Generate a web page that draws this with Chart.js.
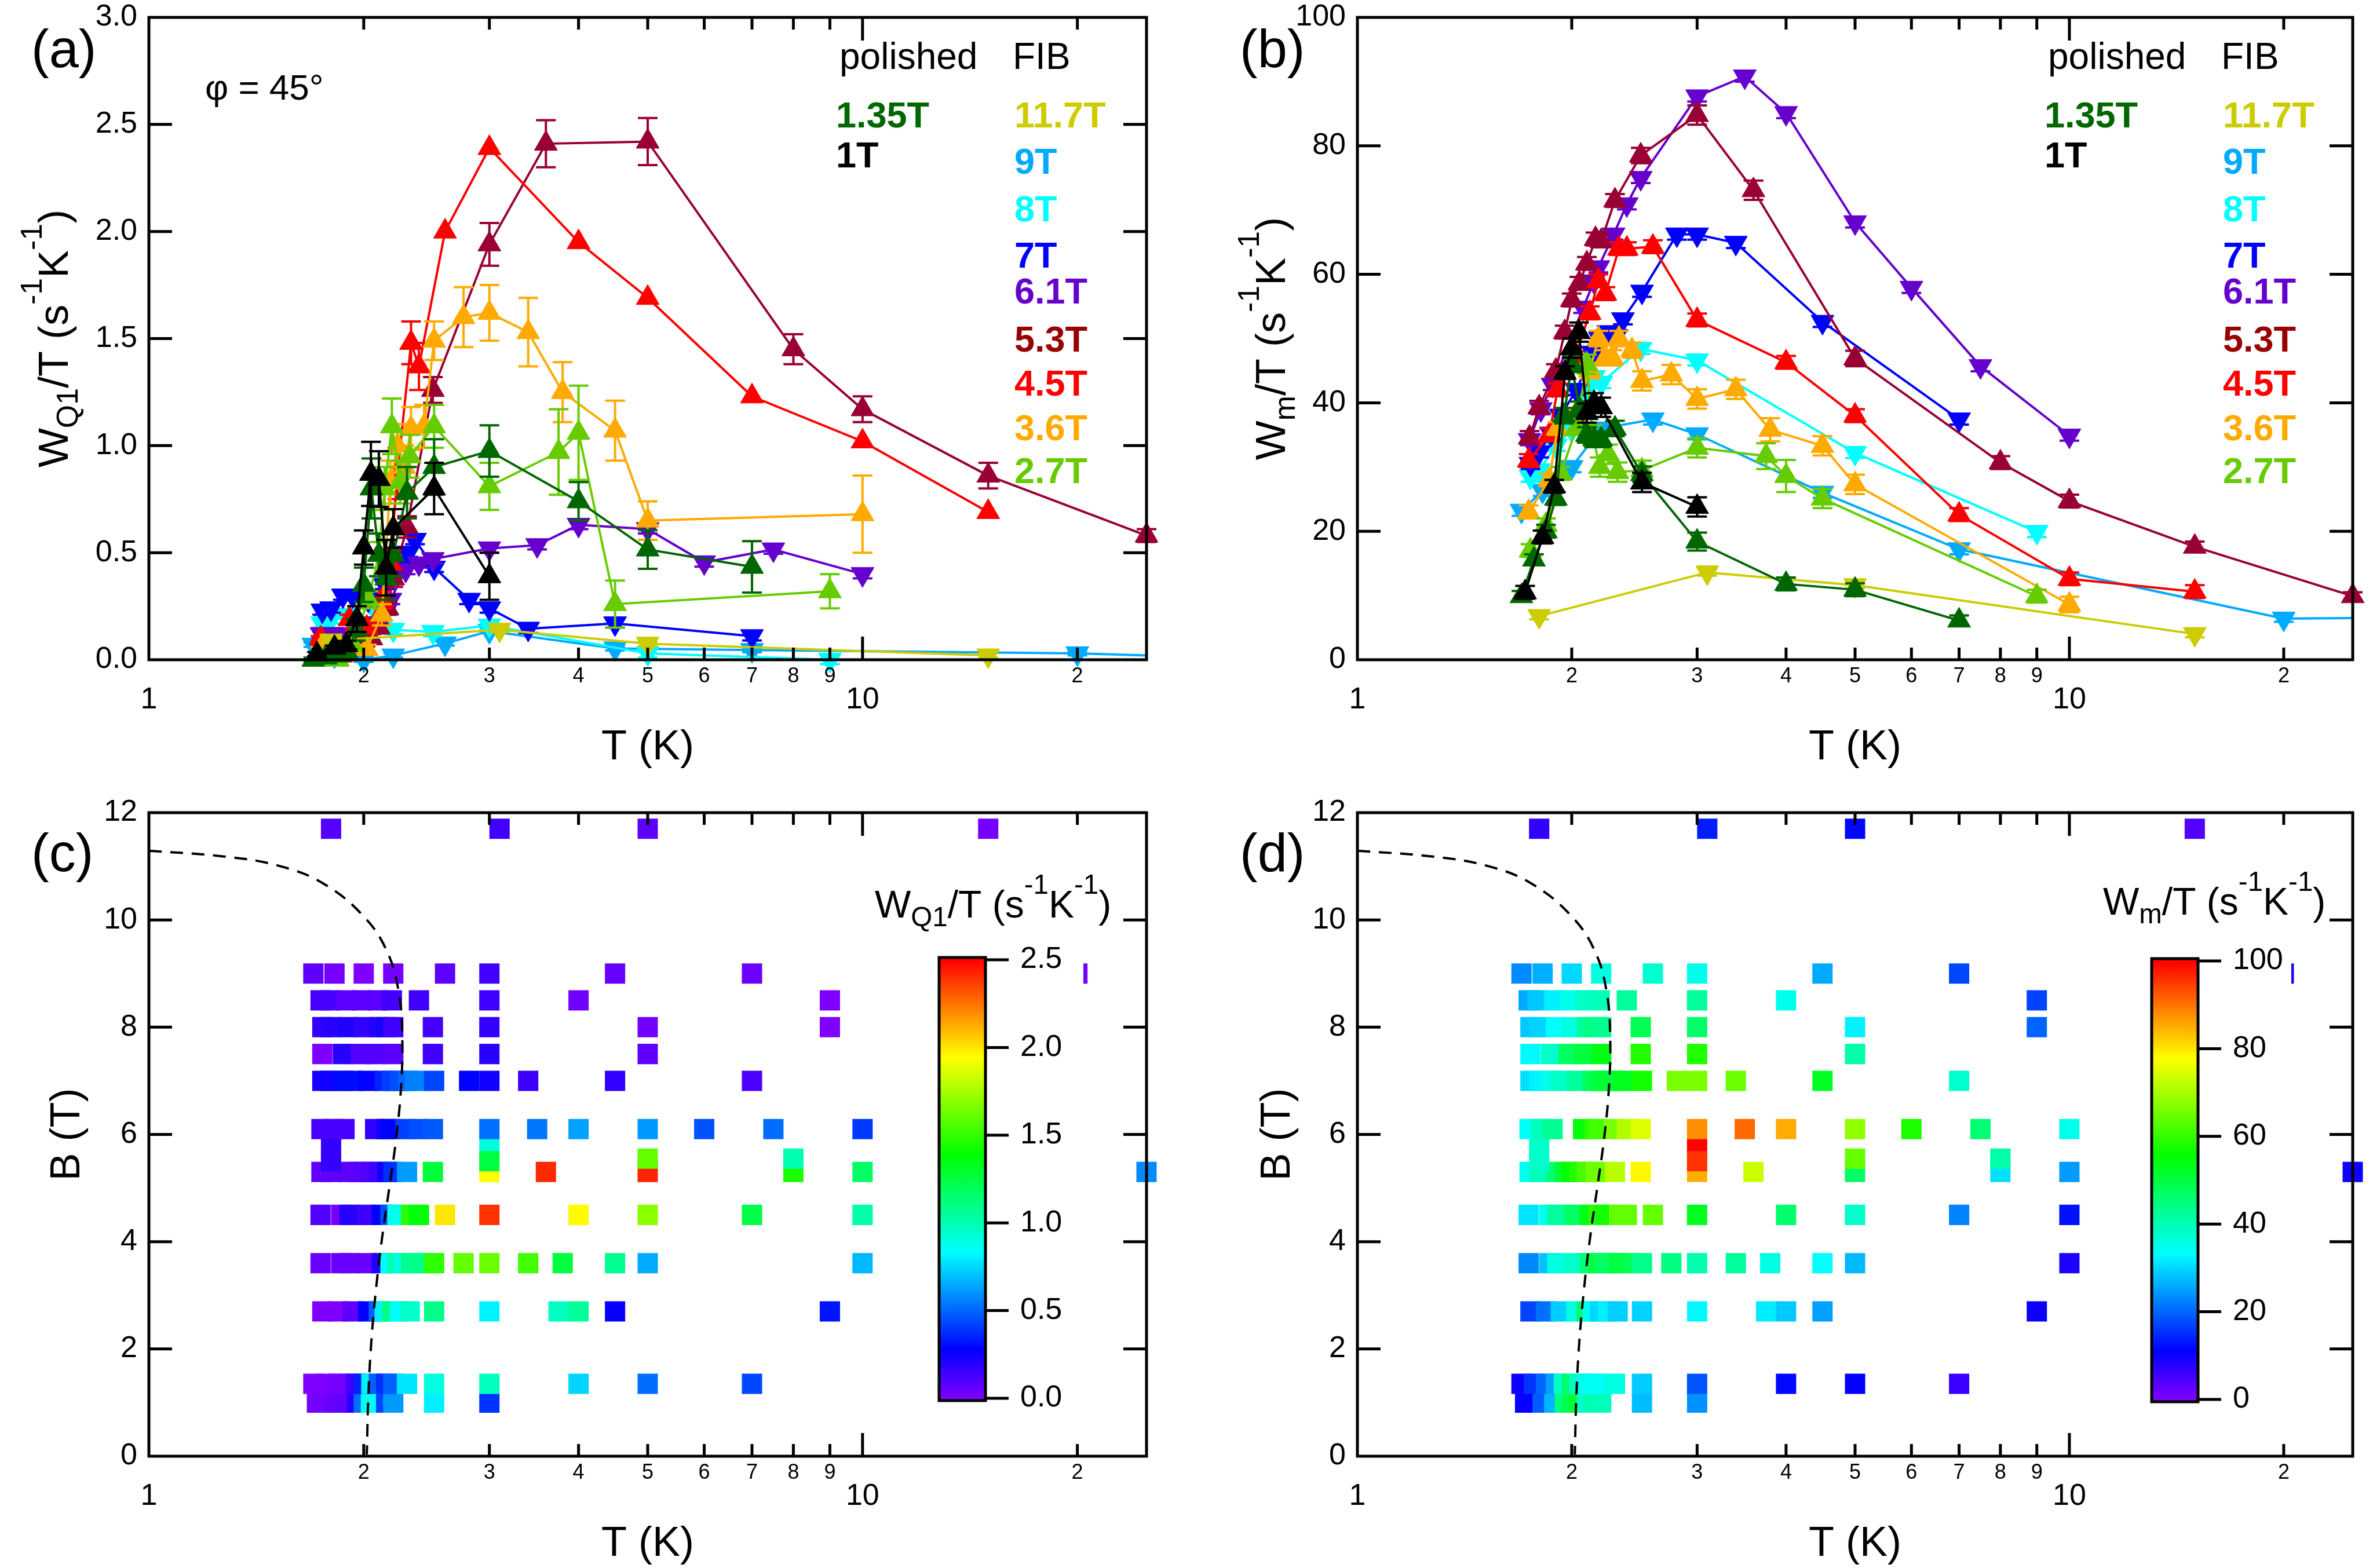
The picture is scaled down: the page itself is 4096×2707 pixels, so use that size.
<!DOCTYPE html>
<html><head><meta charset="utf-8">
<script src="https://cdn.jsdelivr.net/npm/chart.js@4.4.0/dist/chart.umd.min.js"></script>
<style>
html,body{margin:0;padding:0;background:#fff;}
#wrap{position:relative;width:4096px;height:2707px;background:#fff;overflow:hidden;}
canvas{position:absolute;}
</style></head>
<body><div id="wrap">
<canvas id="ca" width="2048" height="1353" style="left:0;top:0"></canvas>
<canvas id="cb" width="2048" height="1353" style="left:2048px;top:0"></canvas>
<canvas id="cc" width="2048" height="1354" style="left:0;top:1353px"></canvas>
<canvas id="cd" width="2048" height="1354" style="left:2048px;top:1353px"></canvas>
</div>
<script>
// ---------------- data (T in K, Q = W_Q1/T, M = Wm/T) ----------------
const T_1   = [1.72, 1.82, 1.89, 1.957, 2.0, 2.047, 2.10, 2.15, 2.20, 2.51, 3.0];
const Q_1   = [0.026, 0.056, 0.068, 0.19, 0.524, 0.868, 0.844, 0.43, 0.613, 0.80, 0.39];
const EQ_1  = [0.01, 0.01, 0.02, 0.06, 0.08, 0.15, 0.13, 0.13, 0.09, 0.12, 0.11];
const M_1   = [10.5, 19.1, 27, 44.7, 48.5, 51.0, 38.4, 40, 39.3, 27.6, 23.8];
const EM_1  = [1, 1, 1, 1, 1.5, 1.5, 1.5, 1.5, 1.5, 1.5, 1.5];

const T_135  = [1.70, 1.77, 1.84, 1.90, 1.95, 2.0, 2.05, 2.10, 2.15, 2.20, 2.30, 2.51, 3.0, 4.0, 5.0, 7.0];
const Q_135  = [0.0, 0.01, 0.02, 0.03, 0.14, 0.35, 0.8, 0.49, 0.38, 0.49, 0.78, 0.90, 0.975, 0.74, 0.515, 0.434];
const EQ_135 = [0.01, 0.01, 0.01, 0.02, 0.05, 0.08, 0.14, 0.1, 0.1, 0.1, 0.12, 0.13, 0.12, 0.09, 0.09, 0.12];
const M_135  = [9.9, 15.6, 20, 25.1, 38, 46, 39, 35, 34.3, 34.3, 36, 28.9, 18.4, 11.8, 10.9, 6.1];
const EM_135 = [0.8, 0.8, 1, 1, 1.2, 1.2, 1.2, 1.2, 1.2, 1.2, 1.2, 1.2, 1.4, 1, 1, 0.8];

const T_117  = [1.8, 3.1, 5.0, 15];
const Q_117  = [0.09, 0.14, 0.075, 0.02];
const EQ_117 = [0.01, 0.01, 0.01, 0.01];
const M_117  = [6.8, 13.6, 11.6, 4.0];
const EM_117 = [0.5, 0.5, 0.5, 0.5];

const T_27  = [1.75, 1.84, 1.93, 2.03, 2.10, 2.14, 2.19, 2.25, 2.32, 2.51, 3.0, 3.75, 4.0, 4.5, 9.0];
const Q_27  = [0.0, 0.0, 0.07, 0.28, 0.49, 0.8, 1.09, 0.83, 0.95, 1.09, 0.81, 0.97, 1.06, 0.26, 0.32];
const EQ_27 = [0.01, 0.01, 0.02, 0.04, 0.06, 0.1, 0.13, 0.1, 0.1, 0.1, 0.11, 0.2, 0.22, 0.11, 0.08];
const M_27  = [17, 21, 29, 36, 46, 35, 30, 32, 29.2, 29.5, 33, 31.7, 28.6, 25.1, 9.9];
const EM_27 = [1, 1, 1, 1, 1.5, 1.5, 1.5, 1.5, 1.5, 1.5, 1.5, 2, 2.5, 1.5, 1];

const T_36  = [1.74, 1.86, 1.91, 2.02, 2.12, 2.18, 2.23, 2.28, 2.33, 2.43, 2.51, 2.76, 3.0, 3.4, 3.8, 4.5, 5.0, 10];
const Q_36  = [0.05, 0.05, 0.05, 0.05, 0.21, 0.83, 1.0, 0.9, 1.08, 1.09, 1.49, 1.60, 1.62, 1.53, 1.25, 1.07, 0.65, 0.68];
const EQ_36 = [0.01, 0.01, 0.01, 0.02, 0.05, 0.1, 0.1, 0.1, 0.1, 0.1, 0.09, 0.14, 0.13, 0.16, 0.14, 0.14, 0.09, 0.18];
const M_36  = [23, 28, 36, 38, 45, 50, 47, 47, 50, 48.2, 43.4, 44.4, 40.6, 42.1, 35.8, 33.3, 27.3, 8.6];
const EM_36 = [1, 1, 1, 1, 1.2, 1.2, 1.2, 1.2, 1.2, 1.2, 1.5, 1.5, 1.5, 1.5, 1.8, 1.5, 1.5, 1.2];

const T_45  = [1.74, 1.86, 1.91, 2.02, 2.12, 2.18, 2.23, 2.33, 2.39, 2.6, 3.0, 4.0, 5.0, 7.0, 10, 15];
const Q_45  = [0.10, 0.02, 0.19, 0.15, 0.28, 0.45, 0.87, 1.48, 1.37, 2.0, 2.39, 1.95, 1.69, 1.23, 1.02, 0.69];
const EQ_45 = [0.01, 0.01, 0.02, 0.02, 0.04, 0.06, 0.12, 0.1, 0.11, 0, 0, 0, 0, 0, 0, 0];
const M_45  = [31, 35, 42, 47, 54, 59, 57, 64, 64, 64.3, 52.9, 46.3, 38.0, 22.6, 12.6, 10.6];
const EM_45 = [1, 1, 1, 1, 1, 1, 1, 1, 1, 1, 1, 1, 1, 1, 1, 1];

const T_53  = [1.745, 1.8, 1.9, 1.955, 2.0, 2.05, 2.1, 2.16, 2.2, 2.3, 2.5, 3.0, 3.6, 5.0, 8.0, 10, 15, 25];
const Q_53  = [0.06, 0.07, 0.08, 0.08, 0.09, 0.1, 0.15, 0.24, 0.38, 0.62, 1.26, 1.94, 2.41, 2.42, 1.45, 1.17, 0.86, 0.58];
const EQ_53 = [0.01, 0.01, 0.01, 0.01, 0.01, 0.02, 0.02, 0.03, 0.04, 0.05, 0.06, 0.1, 0.11, 0.11, 0.07, 0.06, 0.06, 0.03];
const M_53  = [34.6, 39.3, 45, 51, 56, 58.6, 61.7, 65.5, 65.2, 71.5, 78.5, 84.8, 73.1, 46.9, 30.7, 24.7, 17.6, 9.9];
const EM_53 = [1, 1, 1, 1, 1, 1, 1, 1, 1, 1, 1.2, 1.5, 1.5, 1.2, 1, 1, 0.8, 0.6];

const T_61  = [1.745, 1.81, 1.88, 2.075, 2.15, 2.18, 2.29, 2.39, 2.5, 3.0, 3.5, 4.0, 5.0, 6.0, 7.5, 10];
const Q_61  = [0.12, 0.12, 0.12, 0.17, 0.23, 0.28, 0.42, 0.45, 0.47, 0.52, 0.535, 0.63, 0.61, 0.455, 0.515, 0.40];
const EQ_61 = [0.02, 0.02, 0.02, 0.02, 0.02, 0.02, 0.02, 0.02, 0.02, 0.02, 0.02, 0.02, 0.02, 0.02, 0.02, 0.02];
const M_61  = [34.2, 39.0, 42.8, 54.8, 58.9, 61.1, 66.2, 70.9, 75.0, 87.7, 90.8, 85.1, 68.1, 57.9, 45.7, 34.9];
const EM_61 = [0.8, 0.8, 0.8, 0.8, 0.8, 0.8, 0.8, 0.8, 0.8, 0.8, 0.8, 0.8, 0.8, 0.8, 0.8, 0.8];

const T_7   = [1.75, 1.80, 1.87, 1.93, 2.03, 2.14, 2.19, 2.25, 2.31, 2.36, 2.51, 2.81, 3.0, 3.4, 4.5, 7.0];
const Q_7   = [0.23, 0.24, 0.30, 0.30, 0.28, 0.35, 0.41, 0.45, 0.50, 0.56, 0.43, 0.28, 0.24, 0.145, 0.17, 0.11];
const EQ_7  = [0.02, 0.02, 0.02, 0.02, 0.02, 0.02, 0.02, 0.02, 0.02, 0.02, 0.02, 0.02, 0.02, 0.02, 0.02, 0.02];
const M_7   = [30.5, 32.3, 35.2, 38, 42, 47.8, 50, 51, 50.4, 53, 57.3, 66.2, 66.2, 64.9, 52.6, 37.4];
const EM_7  = [0.8, 0.8, 0.8, 0.8, 0.8, 0.8, 0.8, 0.8, 0.8, 0.8, 0.8, 0.8, 0.8, 0.8, 0.8, 0.8];

const T_8   = [1.75, 1.80, 1.90, 2.0, 2.1, 2.15, 2.2, 2.5, 3.0, 5.0, 9.0];
const Q_8   = [0.17, 0.19, 0.21, 0.17, 0.20, 0.23, 0.14, 0.13, 0.16, 0.03, 0.0];
const EQ_8  = [0.02, 0.02, 0.02, 0.02, 0.02, 0.02, 0.02, 0.02, 0.02, 0.02, 0.02];
const M_8   = [28.5, 29.5, 33.3, 35.8, 42, 44, 43.1, 48.4, 46.6, 32.2, 19.9];
const EM_8  = [0.8, 0.8, 0.8, 0.8, 0.8, 0.8, 0.8, 0.8, 0.8, 0.8, 0.8];

const T_9   = [1.70, 1.82, 2.0, 2.2, 2.6, 3.0, 4.5, 7.0, 20, 30];
const Q_9   = [0.07, 0.02, 0.0, 0.02, 0.076, 0.134, 0.053, 0.045, 0.03, 0.012];
const EQ_9  = [0.01, 0.01, 0.01, 0.01, 0.01, 0.01, 0.01, 0.01, 0.01, 0];
const M_9   = [23.2, 26.3, 30, 36, 37.4, 35.1, 26.0, 17.2, 6.4, 6.55];
const EM_9  = [0.8, 0.8, 0.8, 0.8, 0.8, 0.8, 0.8, 0.8, 0.5, 0];

// heat-map only rows / cells
const ROW75_T = [1.75, 1.87, 1.98, 2.08, 2.2, 2.5, 3.0, 5.0];
const ROW75_Q = [0.0, 0.19, 0.10, 0.10, 0.08, 0.14, 0.19, 0.07];
const ROW75_M = [33, 38, 47, 50, 54, 58.5, 58.5, 41];
const ROW85_T = [1.74, 1.79, 1.89, 1.99, 2.09, 2.19, 2.39, 3.0, 4.0, 9.0];
const ROW85_Q = [0.12, 0.12, 0.08, 0.08, 0.08, 0.13, 0.14, 0.14, 0.03, 0.0];
const ROW85_M = [26, 28.5, 32, 35, 38, 39.5, 42, 42, 35, 17];
const XTRA_T = [1.8, 3.0, 1.8, 3.0, 5.0, 8.0];
const XTRA_B = [5.75, 5.75, 5.5, 5.5, 5.55, 5.55];
const XTRA_Q = [0.17, 0.91, 0.16, 1.25, 1.6, 1.0];
const XTRA_M = [38, 100, 38, 95.5, 64.4, 41];
const FAR_T = [15, 25, 20];
const FAR_B = [11.7, 5.3, 9.0];
const FAR_Q = [0.02, 0.58, 0.03];
const FAR_M = [4.0, 9.9, 9.0];
const HM_MAX_T = 10.5;

// phase boundary (dashed)
const PHASE_T = [1.0, 1.28, 1.52, 1.755, 2.005, 2.16, 2.24, 2.265, 2.255, 2.22, 2.17, 2.12, 2.08, 2.05, 2.03, 2.02];
const PHASE_B = [11.29, 11.18, 11.01, 10.68, 10.05, 9.39, 8.64, 7.79, 6.85, 5.91, 4.97, 4.03, 3.09, 2.15, 1.11, 0.03];

// ticks
const XT_VALS = [1, 2, 3, 4, 5, 6, 7, 8, 9, 10, 20];
const XT_TEXT = ['1', '2', '3', '4', '5', '6', '7', '8', '9', '10', '2'];
const XT_MAJOR = [1, 10];
const YT_A = [0, 0.5, 1.0, 1.5, 2.0, 2.5, 3.0];
const YT_A_TXT = ['0.0', '0.5', '1.0', '1.5', '2.0', '2.5', '3.0'];
const YT_B = [0, 20, 40, 60, 80, 100];
const YT_B_TXT = ['0', '20', '40', '60', '80', '100'];
const YT_C = [0, 2, 4, 6, 8, 10, 12];
const YT_C_TXT = ['0', '2', '4', '6', '8', '10', '12'];
const CB_Q = [0, 0.5, 1.0, 1.5, 2.0, 2.5];
const CB_Q_TXT = ['0.0', '0.5', '1.0', '1.5', '2.0', '2.5'];
const CB_M = [0, 20, 40, 60, 80, 100];
const CB_M_TXT = ['0', '20', '40', '60', '80', '100'];

// legend
const LEG_TEXT = ['polished', 'FIB', '1.35T', '1T', '11.7T', '9T', '8T', '7T', '6.1T', '5.3T', '4.5T', '3.6T', '2.7T'];
const LEG_X = [1449, 1748, 1443, 1443, 1751, 1751, 1751, 1751, 1751, 1751, 1751, 1751, 1751];
const LEG_Y = [119, 119, 220, 289, 220, 300, 382, 462, 524, 607, 683, 760, 834];
const LEG_COL = ['#000000', '#000000', '#006600', '#000000', '#cccc00', '#00aaff', '#00ffff', '#0000ff', '#6600cc', '#990000', '#ff0000', '#ffaa00', '#66cc00'];
const LEG_BOLD = [0, 0, 1, 1, 1, 1, 1, 1, 1, 1, 1, 1, 1];

// ---------------- tables built from the arrays ----------------
const SER = [
  {lab:'1T',    B:1.0,  col:'#000000', down:false, T:T_1,   Q:Q_1,   EQ:EQ_1,   M:M_1,   EM:EM_1},
  {lab:'1.35T', B:1.35, col:'#006600', down:false, T:T_135, Q:Q_135, EQ:EQ_135, M:M_135, EM:EM_135},
  {lab:'11.7T', B:11.7, col:'#cccc00', down:true,  T:T_117, Q:Q_117, EQ:EQ_117, M:M_117, EM:EM_117},
  {lab:'2.7T',  B:2.7,  col:'#66cc00', down:false, T:T_27,  Q:Q_27,  EQ:EQ_27,  M:M_27,  EM:EM_27},
  {lab:'3.6T',  B:3.6,  col:'#ffaa00', down:false, T:T_36,  Q:Q_36,  EQ:EQ_36,  M:M_36,  EM:EM_36},
  {lab:'4.5T',  B:4.5,  col:'#ff0000', down:false, T:T_45,  Q:Q_45,  EQ:EQ_45,  M:M_45,  EM:EM_45},
  {lab:'5.3T',  B:5.3,  col:'#990033', down:false, T:T_53,  Q:Q_53,  EQ:EQ_53,  M:M_53,  EM:EM_53},
  {lab:'6.1T',  B:6.1,  col:'#6600cc', down:true,  T:T_61,  Q:Q_61,  EQ:EQ_61,  M:M_61,  EM:EM_61},
  {lab:'7T',    B:7.0,  col:'#0000ff', down:true,  T:T_7,   Q:Q_7,   EQ:EQ_7,   M:M_7,   EM:EM_7},
  {lab:'8T',    B:8.0,  col:'#00ffff', down:true,  T:T_8,   Q:Q_8,   EQ:EQ_8,   M:M_8,   EM:EM_8},
  {lab:'9T',    B:9.0,  col:'#00aaff', down:true,  T:T_9,   Q:Q_9,   EQ:EQ_9,   M:M_9,   EM:EM_9, clipR:true}
];

const FONT = '"Liberation Sans", Arial, Helvetica, sans-serif';
const MARK_R = 23;
const CELL_R = 24.75;
const AX_TITLE = 72;

function cmap(v, vmax) {
  let f = Math.max(0, Math.min(1, v / vmax));
  return 'hsl(' + (270 * (1 - f)).toFixed(1) + ',100%,50%)';
}

function lineSets(vk, ek) {
  return SER.map(s => ({
    label: s.lab,
    data: s.T.map((t, i) => ({x: t, y: s[vk][i]})),
    err: s[ek],
    showLine: true,
    borderColor: s.col, backgroundColor: s.col,
    borderWidth: 4,
    pointStyle: 'triangle', pointRotation: s.down ? 180 : 0,
    pointRadius: MARK_R, pointBorderWidth: 1,
    pointBorderColor: s.col, pointBackgroundColor: s.col,
    clip: s.clipR ? {left: false, top: false, right: 0, bottom: false} : false,
    tension: 0
  }));
}

function heatSets(vk, vmax, extraV, r75, r85, farV) {
  const cells = [];
  const add = (t, b, v) => cells.push({x: t, y: b, v: v});
  const rows = SER.slice().sort((a, b) => a.B - b.B);
  rows.filter(s => s.B <= 5.3).forEach(s => s.T.forEach((t, i) => { if (t <= HM_MAX_T) add(t, s.B, s[vk][i]); }));
  XTRA_T.forEach((t, i) => add(t, XTRA_B[i], extraV[i]));
  rows.filter(s => s.B > 5.3 && s.B < 7.2).forEach(s => s.T.forEach((t, i) => { if (t <= HM_MAX_T) add(t, s.B, s[vk][i]); }));
  ROW75_T.forEach((t, i) => add(t, 7.5, r75[i]));
  rows.filter(s => s.B > 7.7 && s.B < 8.2).forEach(s => s.T.forEach((t, i) => { if (t <= HM_MAX_T) add(t, s.B, s[vk][i]); }));
  ROW85_T.forEach((t, i) => add(t, 8.5, r85[i]));
  rows.filter(s => s.B > 8.7).forEach(s => s.T.forEach((t, i) => { if (t <= HM_MAX_T) add(t, s.B, s[vk][i]); }));
  FAR_T.forEach((t, i) => add(t, FAR_B[i], farV[i]));
  const phase = {
    label: 'boundary',
    data: PHASE_T.map((t, i) => ({x: t, y: PHASE_B[i]})),
    showLine: true, borderColor: '#000', borderWidth: 4, borderDash: [22, 15],
    pointRadius: 0, tension: 0.4, clip: false
  };
  const heat = {
    label: 'map',
    data: cells,
    showLine: false,
    pointStyle: 'rect', pointRadius: CELL_R, pointBorderWidth: 0,
    pointBackgroundColor: cells.map(c => cmap(c.v, vmax)),
    backgroundColor: '#000', borderColor: 'rgba(0,0,0,0)',
    clip: false
  };
  return [phase, heat];
}

// ---------------- drawing helpers ----------------
function tx(ctx, s, x, y, size, o) {
  o = o || {};
  ctx.font = (o.bold ? 'bold ' : '') + size + 'px ' + FONT;
  ctx.fillStyle = o.color || '#000';
  ctx.textAlign = o.align || 'left';
  ctx.textBaseline = o.base || 'alphabetic';
  ctx.fillText(s, x, y);
}
function drawRich(ctx, parts, x, y, F, rot, align) {
  ctx.save();
  ctx.translate(x, y);
  if (rot) ctx.rotate(rot);
  ctx.textBaseline = 'alphabetic'; ctx.textAlign = 'left'; ctx.fillStyle = '#000';
  let total = 0;
  const items = parts.map(p => {
    const size = (p.sub || p.sup) ? F * 0.72 : F;
    const font = size + 'px ' + FONT;
    ctx.font = font;
    const w = ctx.measureText(p.t).width;
    total += w;
    return {p, w, font};
  });
  let cx = align === 'center' ? -total / 2 : (align === 'right' ? -total : 0);
  items.forEach(it => {
    ctx.font = it.font;
    const dy = it.p.sub ? F * 0.23 : (it.p.sup ? -F * 0.62 : 0);
    ctx.fillText(it.p.t, cx, dy);
    cx += it.w;
  });
  ctx.restore();
}

const TITLE_Q = [{t:'W'}, {t:'Q1', sub:1}, {t:'/T (s'}, {t:'-1', sup:1}, {t:'K'}, {t:'-1', sup:1}, {t:')'}];
const TITLE_M = [{t:'W'}, {t:'m', sub:1}, {t:'/T (s'}, {t:'-1', sup:1}, {t:'K'}, {t:'-1', sup:1}, {t:')'}];
const TITLE_B = [{t:'B (T)'}];

const DECO = {
  ca: {ox: 0, oy: 0, yTicks: YT_A, yText: YT_A_TXT, yTitle: TITLE_Q, yTitleX: 117, letter: '(a)', letX: 54, letY: 116, legend: 0, phi: true},
  cb: {ox: 2048, oy: 0, yTicks: YT_B, yText: YT_B_TXT, yTitle: TITLE_M, yTitleX: 2218, letter: '(b)', letX: 2140, letY: 116, legend: 2086},
  cc: {ox: 0, oy: 1353, yTicks: YT_C, yText: YT_C_TXT, yTitle: TITLE_B, yTitleX: 137, letter: '(c)', letX: 54, letY: 1504,
       cbar: {x0: 1621, x1: 1701, yTop: 1657, yBot: 2414, vmax: 2.5, ticks: CB_Q, txt: CB_Q_TXT, title: TITLE_Q, tX: 1510, tY: 1584, boxL: 1596, boxR: 1870}},
  cd: {ox: 2048, oy: 1353, yTicks: YT_C, yText: YT_C_TXT, yTitle: TITLE_B, yTitleX: 2226, letter: '(d)', letX: 2140, letY: 1504,
       cbar: {x0: 3714, x1: 3794, yTop: 1659, yBot: 2416, vmax: 100, ticks: CB_M, txt: CB_M_TXT, title: TITLE_M, tX: 3630, tY: 1579, boxL: 3690, boxR: 3955}}
};

const deco = {
  id: 'deco',
  beforeDatasetDraw(chart, args) {
    const ds = chart.data.datasets[args.index];
    if (!ds.err) return;
    const xs = chart.scales.x, ys = chart.scales.y, ctx = chart.ctx, a = chart.chartArea;
    ctx.save();
    ctx.strokeStyle = ds.borderColor; ctx.lineWidth = 4;
    ctx.beginPath();
    ds.data.forEach((p, i) => {
      const e = ds.err[i]; if (!e) return;
      const x = xs.getPixelForValue(p.x);
      if (x > a.right + 2) return;
      const y1 = ys.getPixelForValue(p.y - e), y2 = ys.getPixelForValue(p.y + e);
      ctx.moveTo(x, y1); ctx.lineTo(x, y2);
      ctx.moveTo(x - 17, y1); ctx.lineTo(x + 17, y1);
      ctx.moveTo(x - 17, y2); ctx.lineTo(x + 17, y2);
    });
    ctx.stroke();
    ctx.restore();
  },
  afterDraw(chart) {
    const cfg = DECO[chart.canvas.id];
    const ctx = chart.ctx, a = chart.chartArea, xs = chart.scales.x, ys = chart.scales.y;
    ctx.save();
    // colour-bar annotation box (white background hides what lies beneath)
    if (cfg.cbar) {
      const c = cfg.cbar;
      ctx.fillStyle = '#fff';
      ctx.fillRect(c.boxL - cfg.ox, c.yTop - 40 - cfg.oy, c.boxR - c.boxL, c.yBot - c.yTop + 80);
    }
    ctx.strokeStyle = '#000'; ctx.lineWidth = 5; ctx.lineCap = 'butt'; ctx.setLineDash([]);
    ctx.beginPath();
    XT_VALS.forEach(t => {
      if (t <= 1 || t >= 25) return;
      const px = xs.getPixelForValue(t);
      const L = XT_MAJOR.includes(t) ? 40 : 21;
      ctx.moveTo(px, a.bottom); ctx.lineTo(px, a.bottom - L);
      ctx.moveTo(px, a.top); ctx.lineTo(px, a.top + L);
    });
    cfg.yTicks.forEach(v => {
      if (v <= ys.min || v >= ys.max) return;
      const py = ys.getPixelForValue(v);
      ctx.moveTo(a.left, py); ctx.lineTo(a.left + 40, py);
      ctx.moveTo(a.right, py); ctx.lineTo(a.right - 40, py);
    });
    ctx.stroke();
    ctx.strokeRect(a.left, a.top, a.right - a.left, a.bottom - a.top);
    XT_VALS.forEach((t, i) => {
      const px = xs.getPixelForValue(t);
      const maj = XT_MAJOR.includes(t);
      tx(ctx, XT_TEXT[i], px, a.bottom + (maj ? 70 : 29), maj ? 52 : 36, {align: 'center', base: 'middle'});
    });
    cfg.yTicks.forEach((v, i) => {
      tx(ctx, cfg.yText[i], a.left - 20, ys.getPixelForValue(v), 52, {align: 'right', base: 'middle'});
    });
    tx(ctx, 'T (K)', (a.left + a.right) / 2, a.bottom + 172, AX_TITLE, {align: 'center'});
    const midY = (a.top + a.bottom) / 2;
    ctx.translate(-cfg.ox, -cfg.oy);
    drawRich(ctx, cfg.yTitle, cfg.yTitleX, cfg.oy + midY, AX_TITLE, -Math.PI / 2, 'center');
    tx(ctx, cfg.letter, cfg.letX, cfg.letY, 92);
    if (cfg.phi) tx(ctx, '\u03c6 = 45\u00b0', 354, 172, 62);
    if (cfg.legend !== undefined) {
      LEG_TEXT.forEach((s, i) => {
        tx(ctx, s, LEG_X[i] + cfg.legend, LEG_Y[i], LEG_BOLD[i] ? 63 : 64, {bold: !!LEG_BOLD[i], color: LEG_COL[i]});
      });
    }
    if (cfg.cbar) {
      const c = cfg.cbar;
      const g = ctx.createLinearGradient(0, c.yBot, 0, c.yTop);
      for (let i = 0; i <= 18; i++) g.addColorStop(i / 18, 'hsl(' + (270 * (1 - i / 18)).toFixed(1) + ',100%,50%)');
      ctx.fillStyle = g;
      ctx.fillRect(c.x0, c.yTop - 4, c.x1 - c.x0, c.yBot - c.yTop + 8);
      ctx.lineWidth = 5; ctx.strokeStyle = '#000';
      ctx.strokeRect(c.x0, c.yTop - 4, c.x1 - c.x0, c.yBot - c.yTop + 8);
      ctx.beginPath();
      c.ticks.forEach((v, i) => {
        const py = c.yBot - (c.yBot - c.yTop) * v / c.vmax;
        ctx.moveTo(c.x1, py); ctx.lineTo(c.x1 + 40, py);
        tx(ctx, c.txt[i], c.x1 + 60, py, 52, {base: 'middle'});
      });
      ctx.stroke();
      drawRich(ctx, c.title, c.tX, c.tY, 66, 0, 'left');
    }
    ctx.restore();
  }
};

const PAD = {
  ca: {left: 257, right: 69, top: 30, bottom: 214},
  cb: {left: 295, right: 35, top: 30, bottom: 214},
  cc: {left: 257, right: 69, top: 50, bottom: 193},
  cd: {left: 295, right: 35, top: 50, bottom: 193}
};

function mk(id, yMax, datasets) {
  return new Chart(document.getElementById(id), {
    type: 'scatter',
    data: {datasets},
    options: {
      responsive: false, maintainAspectRatio: false, animation: false, devicePixelRatio: 1, events: [],
      layout: {padding: PAD[id]},
      plugins: {legend: {display: false}, tooltip: {enabled: false}},
      scales: {
        x: {type: 'logarithmic', min: 1, max: 25, display: false},
        y: {type: 'linear', min: 0, max: yMax, display: false}
      }
    },
    plugins: [deco]
  });
}

mk('ca', 3.0, lineSets('Q', 'EQ'));
mk('cb', 100, lineSets('M', 'EM'));
mk('cc', 12, heatSets('Q', 2.5, XTRA_Q, ROW75_Q, ROW85_Q, FAR_Q));
mk('cd', 12, heatSets('M', 100, XTRA_M, ROW75_M, ROW85_M, FAR_M));
</script>
</body></html>
